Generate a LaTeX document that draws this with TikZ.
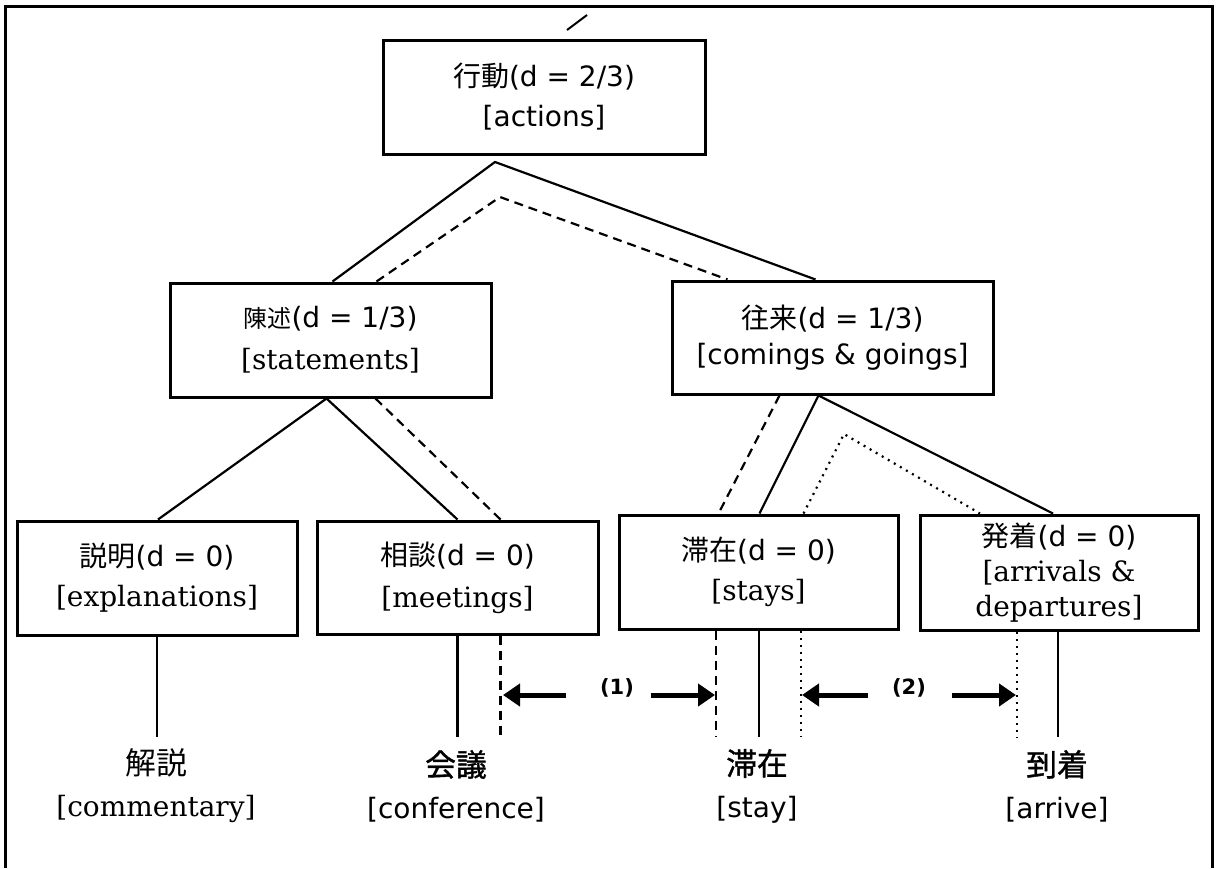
\documentclass[tikz,border=0pt]{standalone}
\usepackage{fontspec}
\setmainfont{DejaVu Sans}
\newfontfamily\jp{Noto Sans CJK JP}
\newfontfamily\jpbold{Noto Sans CJK JP}[Scale=1.1,FakeBold=1.2]
\newfontfamily\jplab{Noto Sans CJK JP}[Scale=1.1]
\newfontfamily\serf{DejaVu Serif}
\usetikzlibrary{arrows.meta,calc}
\begin{document}
\begin{tikzpicture}[x=1pt,y=-1pt,
  box/.style={draw, line width=3pt, align=center, inner sep=0pt, font=\fontsize{28}{40}\selectfont},
  lbl/.style={align=center, inner sep=0pt, font=\fontsize{28}{42}\selectfont},
  num/.style={inner sep=0pt, font=\fontsize{21}{24}\selectfont\bfseries},
  link/.style={line width=2.2pt},
  dsh/.style={line width=2.2pt, dash pattern=on 9pt off 6pt},
  dtt/.style={line width=2.2pt, dash pattern=on 2pt off 5pt},
  bigarrow/.style={line width=5pt, -{Triangle[length=17pt,width=22pt]}}]
\useasboundingbox (0,0) rectangle (1216,868);
% frame
\draw[line width=3pt] (5,868) -- (5,6) -- (1212,6) -- (1212,868);
\draw[line width=2pt] (567,30) -- (587,15);
% boxes
\node[box, minimum width=322pt, minimum height=114pt] (act) at (544,97)
  {{\jp 行動}(d = 2/3)\\{[actions]}};
\node[box, minimum width=321pt, minimum height=114pt, font=\fontsize{28}{42}\selectfont] (st) at (330.5,340)
  {{\jp\fontsize{24}{42}\selectfont 陳述}(d = 1/3)\\{\serf [statements]}};
\node[box, minimum width=321pt, minimum height=113pt, font=\fontsize{28}{36}\selectfont] (ou) at (832.5,337.5)
  {{\jp 往来}(d = 1/3)\\{[comings \& goings]}};
\node[box, minimum width=280pt, minimum height=114pt] (ex) at (157,578)
  {{\jp 説明}(d = 0)\\{\serf [explanations]}};
\node[box, minimum width=281pt, minimum height=113pt, font=\fontsize{28}{42}\selectfont] (me) at (457.5,577.5)
  {{\jp 相談}(d = 0)\\{\serf [meetings]}};
\node[box, minimum width=279pt, minimum height=114pt] (sa) at (758.5,572)
  {{\jp 滞在}(d = 0)\\{\serf [stays]}};
\node[box, minimum width=278pt, minimum height=115pt, font=\fontsize{28}{35}\selectfont] (ha) at (1059,572.5)
  {{\jp 発着}(d = 0)\\{\serf [arrivals \&}\\{\serf departures]}};
% bottom labels
\node[lbl] (b1) at (156,786) {{\jplab 解説}\\{\serf [commentary]}};
\node[lbl] (b2) at (456,786) {{\jpbold 会議}\\{[conference]}};
\node[lbl] (b3) at (757,786) {{\jpbold 滞在}\\{[stay]}};
\node[lbl] (b4) at (1057,786) {{\jpbold 到着}\\{[arrive]}};
% apex coordinates
\coordinate (A1) at (495,162);
\coordinate (A2) at (500,197);
\coordinate (A3) at (844,434);
\coordinate (bot) at (0,737);
% tree connectors
\draw[link] ($(st.north)+(2,0)$) -- (A1) -- ($(ou.north)+(-17,0)$);
\draw[dsh] ($(st.north)+(46,0)$) -- (A2) -- ($(ou.north)+(-105,0)$);
\draw[link] ($(ex.north)+(1,0)$) -- ($(st.south)+(-4,0)$) -- (me.north);
\draw[dsh] ($(st.south)+(45,0)$) -- ($(me.north)+(43,0)$);
\draw[link] ($(sa.north)+(1,0)$) -- ($(ou.south)+(-14,0)$) -- ($(ha.north)+(-6,0)$);
\draw[dsh] ($(ou.south)+(-53,0)$) -- ($(sa.north)+(-40,0)$);
\draw[dtt] ($(sa.north)+(45,0)$) -- (A3) -- ($(ha.north)+(-79,0)$);
% vertical connectors
\coordinate (exS) at (ex.south);
\coordinate (meS) at (me.south);
\coordinate (meD) at ($(me.south)+(43,0)$);
\coordinate (saD) at ($(sa.south)+(-42.5,0)$);
\coordinate (saS) at ($(sa.south)+(0.5,0)$);
\coordinate (saT) at ($(sa.south)+(42.5,0)$);
\coordinate (haT) at ($(ha.south)+(-42,0)$);
\coordinate (haS) at ($(ha.south)+(-1,0)$);
\draw[link] (exS) -- (exS |- bot);
\draw[link] (meS) -- (meS |- bot);
\draw[dsh] (meD) -- (meD |- bot);
\draw[dsh] (saD) -- (saD |- bot);
\draw[link] (saS) -- (saS |- bot);
\draw[dtt] (saT) -- (saT |- bot);
\draw[dtt] (haT) -- (haT |- bot);
\draw[link] (haS) -- (haS |- bot);
% range markers
\node[num] (n1) at (617,688) {(1)};
\node[num] (n2) at (909,688) {(2)};
\coordinate (a1s) at (566,695);
\coordinate (a1e) at (503,695);
\coordinate (a2s) at (651,695);
\coordinate (a2e) at (715,695);
\coordinate (a3s) at (868,695);
\coordinate (a3e) at (802,695);
\coordinate (a4s) at (952,695);
\coordinate (a4e) at (1016,695);
\draw[bigarrow] (a1s) -- (a1e);
\draw[bigarrow] (a2s) -- (a2e);
\draw[bigarrow] (a3s) -- (a3e);
\draw[bigarrow] (a4s) -- (a4e);
\end{tikzpicture}
\end{document}
